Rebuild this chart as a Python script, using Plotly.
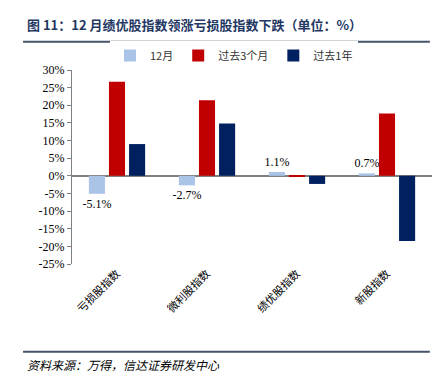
import plotly.graph_objects as go

categories = ["亏损股指数", "微利股指数", "绩优股指数", "新股指数"]
series_names = ["12月", "过去3个月", "过去1年"]
dec_vals = [-5.1, -2.7, 1.1, 0.7]
m3_vals = [26.7, 21.4, -0.3, 17.7]
y1_vals = [9.0, 14.8, -2.3, -18.5]
y_tickvals = [-25, -20, -15, -10, -5, 0, 5, 10, 15, 20, 25, 30]
y_ticktext = [f"{v}%" for v in y_tickvals]

colors = ["#A9C4E7", "#C00000", "#002060"]
serif = "Liberation Serif, Times New Roman, serif"
cjk = "Noto Sans CJK SC, sans-serif"

fig = go.Figure()
fig.add_bar(x=categories, y=dec_vals, name=series_names[0], marker_color=colors[0],
            text=[f"{v:.1f}%" for v in dec_vals], textposition="outside",
            constraintext="none",
            textfont=dict(family=serif, size=12, color="#000000"), cliponaxis=False)
fig.add_bar(x=categories, y=m3_vals, name=series_names[1], marker_color=colors[1])
fig.add_bar(x=categories, y=y1_vals, name=series_names[2], marker_color=colors[2])

fig.update_traces(marker_line_width=0)

fig.update_layout(
    width=440, height=366,
    margin=dict(l=64, r=16, t=62, b=110, autoexpand=False),
    paper_bgcolor="white", plot_bgcolor="white",
    barmode="group", bargap=0.33, bargroupgap=0.2,
    showlegend=True,
    legend=dict(orientation="h", x=0.45, xanchor="center", y=1.0, yanchor="bottom",
                font=dict(family=cjk, size=11, color="#333333"),
                itemwidth=30, tracegroupgap=0, itemsizing="constant"),
    xaxis=dict(showline=False, ticks="", tickangle=-45,
               tickfont=dict(family=cjk, size=11, color="#000000")),
    yaxis=dict(range=[-25, 30], tickvals=y_tickvals, ticktext=y_ticktext,
               showgrid=False, zeroline=True, zerolinecolor="#808080", zerolinewidth=1.5,
               showline=True, linecolor="#808080", linewidth=1,
               ticks="outside", ticklen=4, tickcolor="#808080",
               tickfont=dict(family=serif, size=12, color="#000000")),
    font=dict(family=cjk),
)

fig.add_annotation(text="<b>图 11：12 月绩优股指数领涨亏损股指数下跌（单位：%）</b>",
                   xref="paper", yref="paper", x=-0.131, xanchor="left",
                   y=1.0, yshift=46, yanchor="middle", showarrow=False,
                   font=dict(family=cjk, size=13, color="#1F3864"))
fig.add_shape(type="line", xref="paper", yref="paper", x0=-0.136, x1=0.994,
              y0=1.145, y1=1.145, line=dict(color="#44546A", width=2))
fig.add_shape(type="line", xref="paper", yref="paper", x0=-0.136, x1=0.994,
              y0=-0.452, y1=-0.452, line=dict(color="#44546A", width=2))
fig.add_annotation(text="<i>资料来源：万得，信达证券研发中心</i>",
                   xref="paper", yref="paper", x=-0.131, xanchor="left",
                   y=-0.452, yshift=-13, yanchor="middle", showarrow=False,
                   font=dict(family=cjk, size=12, color="#000000"))

fig.write_html("out.html")
